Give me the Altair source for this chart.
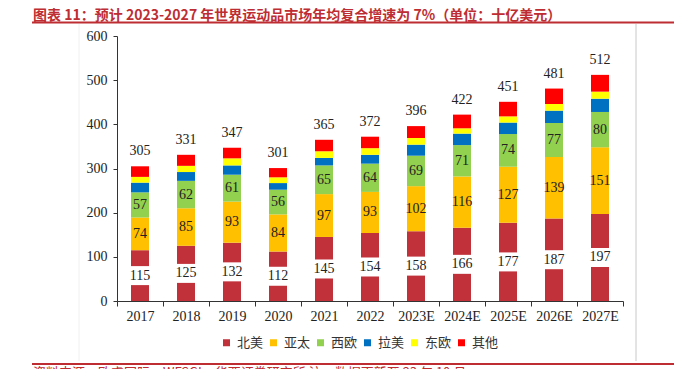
import altair as alt
import pandas as pd

years = ["2017", "2018", "2019", "2020", "2021", "2022", "2023E", "2024E", "2025E", "2026E", "2027E"]
north_america = [115, 125, 132, 112, 145, 154, 158, 166, 177, 187, 197]
asia_pacific = [74, 85, 93, 84, 97, 93, 102, 116, 127, 139, 151]
western_europe = [57, 62, 61, 56, 65, 64, 69, 71, 74, 77, 80]
latin_america = [22, 20, 21, 15, 17, 20, 25, 26, 26, 28, 30]
eastern_europe = [13, 14, 16, 13, 15, 15, 15, 12, 14, 15, 16]
others = [24, 25, 24, 21, 26, 26, 27, 31, 33, 35, 38]
totals = [305, 331, 347, 301, 365, 372, 396, 422, 451, 481, 512]

regions = ["北美", "亚太", "西欧", "拉美", "东欧", "其他"]
colors = ["#C0313A", "#FFC000", "#92D050", "#0070C0", "#FFFF00", "#FF0000"]
y_ticks = [0, 100, 200, 300, 400, 500, 600]

title_text = "图表 11：预计 2023-2027 年世界运动品市场年均复合增速为 7%（单位：十亿美元）"
source_text = "资料来源：欧睿国际，WFSGI，华西证券研究所  注：数据更新至 23 年 10 月"

series = [north_america, asia_pacific, western_europe, latin_america, eastern_europe, others]
rows = []
for i, (r, vals) in enumerate(zip(regions, series)):
    for yr, v in zip(years, vals):
        rows.append({"year": yr, "region": r, "value": v, "idx": i})
df = pd.DataFrame(rows)
tot = pd.DataFrame({"year": years, "total": totals})
one = pd.DataFrame({"a": [0]})

NUM_FONT = "Liberation Serif"
CJK_FONT = "Noto Sans CJK SC"
DARK_RED = "#BE2D32"

x_axis = alt.Axis(labelAngle=0, tickBand="extent", tickSize=5, labelPadding=3,
                  labelFont=NUM_FONT, labelFontSize=14, labelColor="#222",
                  domainColor="#333", tickColor="#333", grid=False)
y_axis = alt.Axis(values=y_ticks, grid=False, tickSize=4, labelPadding=6,
                  labelFont=NUM_FONT, labelFontSize=14, labelColor="#222",
                  domainColor="#333", tickColor="#333")
y_scale = alt.Scale(domain=[0, 600], nice=False)


def xe():
    return alt.X("year:N", sort=years, title=None,
                 scale=alt.Scale(paddingInner=0, paddingOuter=0), axis=x_axis)


def ye(field):
    return alt.Y(field, title=None, scale=y_scale, axis=y_axis)


base = alt.Chart(df).transform_stack(
    stack="value", groupby=["year"], as_=["v0", "v1"],
    sort=[alt.SortField(field="idx", order="ascending")],
).transform_calculate(mid="(datum.v0 + datum.v1) / 2")

bars = base.mark_bar(size=18).encode(
    x=xe(),
    y=ye("v0:Q"),
    y2="v1:Q",
    color=alt.Color("region:N",
                    scale=alt.Scale(domain=regions, range=colors),
                    legend=alt.Legend(orient="none", legendX=103, legendY=300,
                                      direction="horizontal", title=None,
                                      symbolType="square", symbolSize=49,
                                      symbolStrokeWidth=0, labelFont=CJK_FONT,
                                      labelFontSize=13, labelColor="#333",
                                      labelOffset=4, columnPadding=3, padding=0)),
    order=alt.Order("idx:Q", sort="ascending"),
)

gap = base.transform_filter(alt.datum.idx == 0).mark_tick(
    color="white", thickness=19, size=20, opacity=1
).encode(x=xe(), y=ye("mid:Q"))

labels = base.transform_filter(alt.datum.idx <= 2).mark_text(
    font=NUM_FONT, fontSize=14, color="#222", baseline="middle"
).encode(x=xe(), y=ye("mid:Q"), text="value:Q")

total_labels = alt.Chart(tot).mark_text(
    font=NUM_FONT, fontSize=14, color="#222", baseline="middle", dy=-15
).encode(x=xe(), y=ye("total:Q"), text="total:Q")

top_line = alt.Chart(one).mark_rule(color=DARK_RED, strokeWidth=2).encode(
    x=alt.value(-85), x2=alt.value(557), y=alt.value(-13.5))
bottom_line = alt.Chart(one).mark_rule(color=DARK_RED, strokeWidth=2).encode(
    x=alt.value(-85), x2=alt.value(557), y=alt.value(328))
right_border = alt.Chart(one).mark_rule(color="#c8c8c8", strokeWidth=1).encode(
    x=alt.value(519), y=alt.value(-12), y2=alt.value(325))
left_border = alt.Chart(one).mark_rule(color="#f0f0f0", strokeWidth=1).encode(
    x=alt.value(-38), y=alt.value(-12), y2=alt.value(325))
title = alt.Chart(one).mark_text(
    align="left", baseline="middle", font=CJK_FONT, fontWeight="bold",
    fontSize=14, color=DARK_RED
).encode(x=alt.value(-84), y=alt.value(-20), text=alt.value(title_text))
source = alt.Chart(one).mark_text(
    align="left", baseline="top", font=CJK_FONT, fontSize=13, color=DARK_RED
).encode(x=alt.value(-84), y=alt.value(331), text=alt.value(source_text))

chart = alt.layer(
    bars, gap, labels, total_labels,
    left_border, right_border, top_line, bottom_line, title, source,
).properties(
    width=506, height=265,
    autosize=alt.AutoSizeParams(type="none"),
    padding={"left": 109, "top": 28, "right": 51, "bottom": 68},
).configure_view(stroke=None)

chart.save("out.html", embed_options={"renderer": "svg", "actions": False})
